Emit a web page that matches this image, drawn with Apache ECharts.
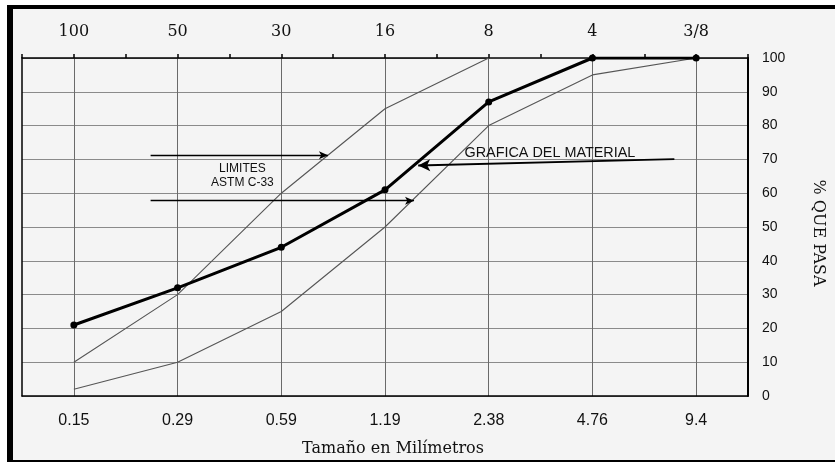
<!DOCTYPE html>
<html>
<head>
<meta charset="utf-8">
<script src="https://cdn.jsdelivr.net/npm/echarts@6/dist/echarts.min.js"></script>
<style>
  html, body { margin: 0; padding: 0; background: #ffffff; }
  #frame { position: absolute; left: 7px; top: 5px; width: 822px; height: 451px;
    border-left: 6px solid #000; border-top: 4px solid #000; border-bottom: 2px solid #000;
    background: #f4f4f4; }
  #chart { position: absolute; left: 0; top: 0; width: 835px; height: 462px; }
</style>
</head>
<body>
<div id="frame"></div>
<div id="chart"></div>
<script>
// Sieve openings (mm) on the bottom axis, sieve numbers on the top axis
const categories = ['0.15', '0.29', '0.59', '1.19', '2.38', '4.76', '9.4'];
const topLabels = ['100', '50', '30', '16', '8', '4', '3/8'];
// % passing
const upperLimit = [10, 30, 60, 85, 100, 100, 100];
const lowerLimit = [2, 10, 25, 50, 80, 95, 100];
const material = [21, 32, 44, 61, 87, 100, 100];
// annotation arrows in data space [sieve index, % passing]
const arrowLimitUpper = [[0.74, 71.2], [2.45, 71.2]];
const arrowLimitLower = [[0.74, 57.8], [3.28, 57.8]];
const arrowMaterial = [[5.79, 70.1], [3.32, 68.2]];
const labelLimits = [1.625, 65.2];
const labelMaterial = [4.59, 71.9];

const sans = 'Liberation Sans, Arial, sans-serif';
const serif = 'DejaVu Serif, serif';

const chart = echarts.init(document.getElementById('chart'), null, { renderer: 'canvas' });
chart.setOption({
  backgroundColor: 'transparent',
  animation: false,
  grid: { left: 22, right: 87, top: 58, bottom: 65 },
  xAxis: [
    {
      type: 'category', data: categories, position: 'bottom', boundaryGap: true,
      name: 'Tamaño en Milímetros', nameLocation: 'middle', nameGap: 45,
      nameTextStyle: { fontFamily: serif, fontSize: 16, color: '#111', padding: [0, 0, 0, 16] },
      axisLine: { onZero: false, lineStyle: { color: '#000', width: 1.5 } },
      axisTick: { show: false },
      axisLabel: { fontFamily: sans, fontSize: 16, color: '#111', margin: 17 },
      splitLine: { show: true, alignWithLabel: true, lineStyle: { color: '#6a6a6a', width: 1 } }
    },
    {
      type: 'value', position: 'top', min: -0.5, max: 6.5, interval: 0.5,
      axisLine: { show: true, onZero: false, lineStyle: { color: '#000', width: 1.5 } },
      axisTick: { show: true, inside: false, length: 4, lineStyle: { color: '#000', width: 1.5 } },
      axisLabel: {
        fontFamily: serif, fontSize: 16, color: '#111', margin: 18,
        formatter: v => (Math.abs(v - Math.round(v)) < 1e-6 && v >= 0 && v <= 6) ? topLabels[Math.round(v)] : ''
      },
      splitLine: { show: false }
    }
  ],
  yAxis: [
    {
      type: 'value', position: 'right', min: 0, max: 100, interval: 10,
      axisLine: { show: true, onZero: false, lineStyle: { color: '#000', width: 2 } },
      axisTick: { show: false },
      axisLabel: { fontFamily: sans, fontSize: 14, color: '#111', margin: 14 },
      splitLine: { show: true, lineStyle: { color: '#8a8a8a', width: 1 } }
    },
    {
      type: 'value', position: 'left', min: 0, max: 100, interval: 10,
      axisLine: { show: true, onZero: false, lineStyle: { color: '#000', width: 1.5 } },
      axisTick: { show: false }, axisLabel: { show: false }, splitLine: { show: false }
    }
  ],
  graphic: [{
    type: 'text', x: 818, y: 233, rotation: -Math.PI / 2,
    style: { text: '% QUE PASA', fontFamily: serif, fontSize: 16, fill: '#111',
      textAlign: 'center', textVerticalAlign: 'middle' }
  }],
  series: [
    {
      name: 'Límite superior', type: 'line', data: upperLimit, xAxisIndex: 0, yAxisIndex: 0,
      symbol: 'none', lineStyle: { color: '#555', width: 1.1 }, z: 3
    },
    {
      name: 'Límite inferior', type: 'line', data: lowerLimit, xAxisIndex: 0, yAxisIndex: 0,
      symbol: 'none', lineStyle: { color: '#555', width: 1.1 }, z: 3
    },
    {
      name: 'Material', type: 'line', data: material, xAxisIndex: 0, yAxisIndex: 0,
      symbol: 'circle', symbolSize: 7, itemStyle: { color: '#000' },
      lineStyle: { color: '#000', width: 3 }, z: 5
    },
    {
      name: 'anotaciones', type: 'line', data: [], xAxisIndex: 1, yAxisIndex: 0, z: 6,
      markLine: {
        silent: true, animation: false,
        symbol: ['none', 'arrow'],
        label: { show: false },
        lineStyle: { color: '#000', width: 1.3, type: 'solid' },
        data: [
          [{ coord: arrowLimitUpper[0], symbolSize: 0 }, { coord: arrowLimitUpper[1], symbolSize: [6, 9] }],
          [{ coord: arrowLimitLower[0], symbolSize: 0 }, { coord: arrowLimitLower[1], symbolSize: [6, 9] }],
          [{ coord: arrowMaterial[0], symbolSize: 0 }, { coord: arrowMaterial[1], symbolSize: [9, 12], lineStyle: { width: 1.8 } }]
        ]
      },
      markPoint: {
        silent: true, animation: false,
        symbol: 'circle', symbolSize: 1, itemStyle: { color: 'transparent' },
        data: [
          { coord: labelLimits, label: { show: true, position: 'inside', formatter: 'LIMITES\nASTM C-33',
            fontFamily: sans, fontSize: 12, color: '#111', lineHeight: 14, align: 'center' } },
          { coord: labelMaterial, label: { show: true, position: 'inside', formatter: 'GRAFICA DEL MATERIAL',
            fontFamily: sans, fontSize: 14.4, color: '#111', align: 'center' } }
        ]
      }
    }
  ]
});
</script>
</body>
</html>
